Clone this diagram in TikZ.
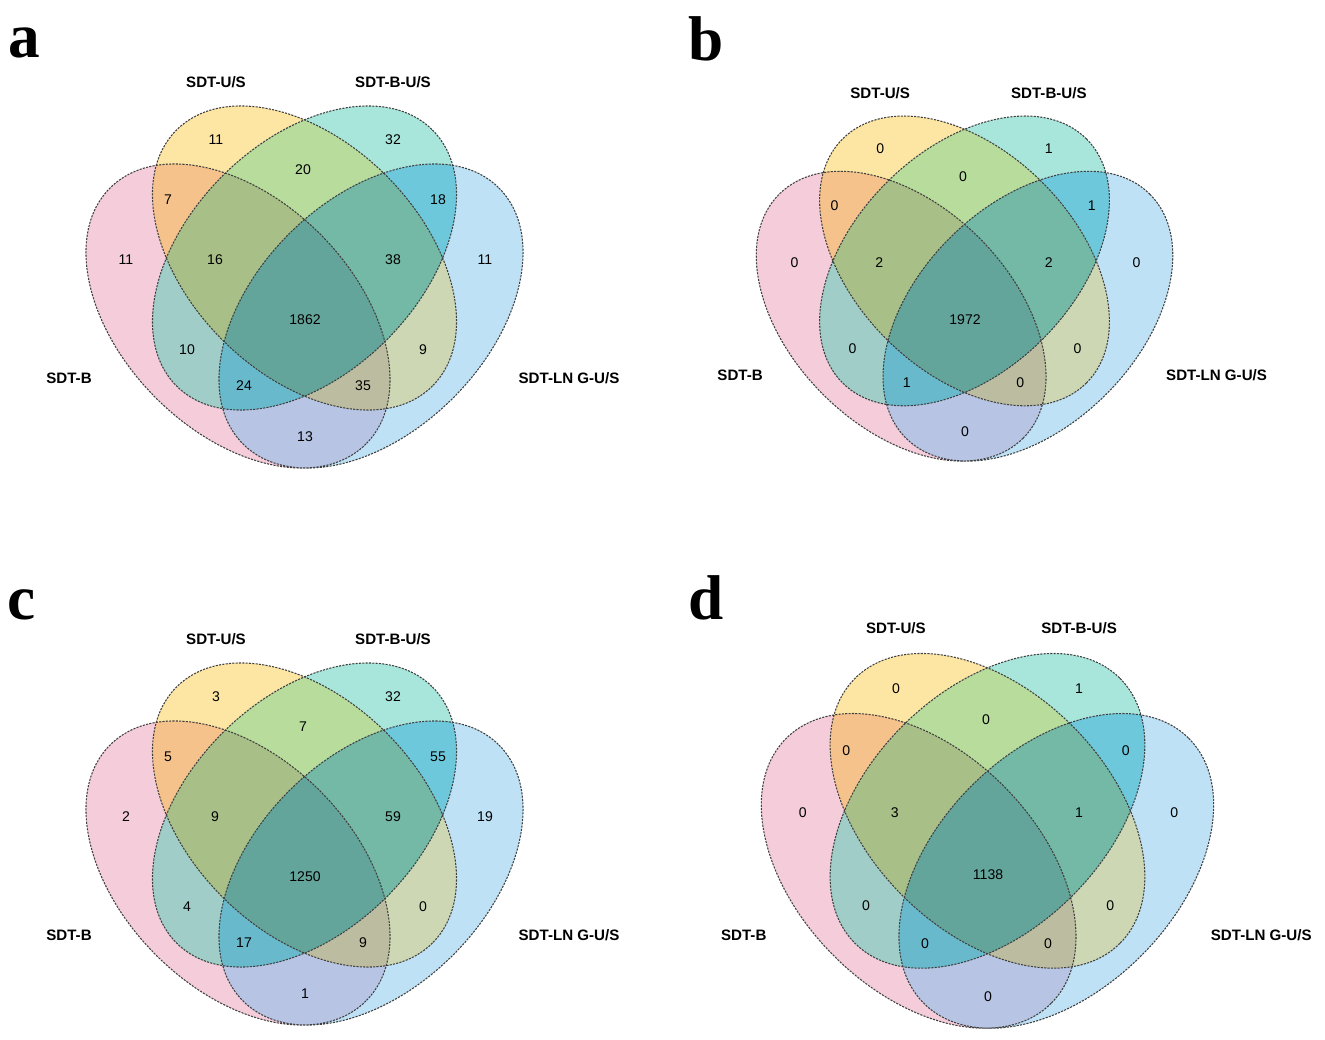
\documentclass[tikz,border=0pt]{standalone}
\usepackage{fontspec}
\setmainfont{Liberation Serif}
\setsansfont{Liberation Sans}

% region colours (one per overlap)
\definecolor{cP}{HTML}{F4CCDA}
\definecolor{cY}{HTML}{FDE5A3}
\definecolor{cT}{HTML}{A8E6DC}
\definecolor{cB}{HTML}{BEE1F5}
\definecolor{cPY}{HTML}{F6C28C}
\definecolor{cPT}{HTML}{A0CDC8}
\definecolor{cPB}{HTML}{B7C4E4}
\definecolor{cYT}{HTML}{B7DC9B}
\definecolor{cYB}{HTML}{CDD7B4}
\definecolor{cTB}{HTML}{6EC8DC}
\definecolor{cPYT}{HTML}{A8C087}
\definecolor{cPYB}{HTML}{BCBCA0}
\definecolor{cPTB}{HTML}{69B9CD}
\definecolor{cYTB}{HTML}{73B9A5}
\definecolor{cPYTB}{HTML}{64A59B}

% the four sets
\def\ellP{(238,316) circle [x radius=181, y radius=116, rotate=-45]}
\def\ellY{(304.5,258) circle [x radius=181, y radius=116, rotate=-45]}
\def\ellT{(304.5,258) circle [x radius=181, y radius=116, rotate=45]}
\def\ellB{(371,316) circle [x radius=181, y radius=116, rotate=45]}

\newcommand\venn[2]{%
    \foreach \x/\y [count=\i] in {216/140, 393/140, 303/170, 168/200, 438/200,
        126/260, 215/260, 393/260, 485/260, 305/320,
        187/350, 423/350, 244/386, 363/386, 305/437}
        \coordinate (p\i) at (\x,\y);
    % single sets
    \fill[cP] \ellP; \fill[cY] \ellY; \fill[cT] \ellT; \fill[cB] \ellB;
    % pairs
    \begin{scope} \clip \ellP; \fill[cPY] \ellY; \end{scope}
    \begin{scope} \clip \ellP; \fill[cPT] \ellT; \end{scope}
    \begin{scope} \clip \ellP; \fill[cPB] \ellB; \end{scope}
    \begin{scope} \clip \ellY; \fill[cYT] \ellT; \end{scope}
    \begin{scope} \clip \ellY; \fill[cYB] \ellB; \end{scope}
    \begin{scope} \clip \ellT; \fill[cTB] \ellB; \end{scope}
    % triples
    \begin{scope} \clip \ellP; \clip \ellY; \fill[cPYT] \ellT; \end{scope}
    \begin{scope} \clip \ellP; \clip \ellY; \fill[cPYB] \ellB; \end{scope}
    \begin{scope} \clip \ellP; \clip \ellT; \fill[cPTB] \ellB; \end{scope}
    \begin{scope} \clip \ellY; \clip \ellT; \fill[cYTB] \ellB; \end{scope}
    \begin{scope} \clip \ellP; \clip \ellY; \clip \ellT; \fill[cPYTB] \ellB; \end{scope}
    \draw[outline] \ellP \ellY \ellT \ellB;
    % set names
    \node[setname] (#1-P) at (69,378) {SDT-B};
    \node[setname] (#1-Y) at (216,82) {SDT-U/S};
    \node[setname] (#1-T) at (393,82) {SDT-B-U/S};
    \node[setname] (#1-B) at (569,378) {SDT-LN G-U/S};
    \foreach \n [count=\i] in {#2}
        \node[num] (#1-n\i) at (p\i) {\n};
}

\begin{document}
\begin{tikzpicture}[
    x=0.02cm, y=-0.02cm,
    outline/.style={draw=black!75, line width=0.6pt, dash pattern=on 1.2pt off 0.7pt},
    setname/.style={font=\sffamily\bfseries\fontsize{8.6}{10}\selectfont, inner sep=0pt},
    num/.style={font=\sffamily\fontsize{8}{10}\selectfont, inner sep=0pt},
    panel/.style={font=\bfseries\fontsize{36}{36}\selectfont, inner sep=0pt}
]
    \useasboundingbox (0,0) rectangle (1325,1040);
    \fill[white] (0,0) rectangle (1325,1040);

    \begin{scope}
        \venn{a}{11,32,20,7,18,11,16,38,11,1862,10,9,24,35,13}
    \end{scope}
    \begin{scope}[shift={(660,0)}, scale around={0.953:(305,320)}]
        \venn{b}{0,1,0,0,1,0,2,2,0,1972,0,0,1,0,0}
    \end{scope}
    \begin{scope}[shift={(0,557)}]
        \venn{c}{3,32,7,5,55,2,9,59,19,1250,4,0,17,9,1}
    \end{scope}
    \begin{scope}[shift={(683,555)}, scale around={1.035:(305,320)}]
        \venn{d}{0,1,0,0,0,0,3,1,0,1138,0,0,0,0,0}
    \end{scope}

    \node[panel] (la) at (24,43) {a};
    \node[panel] (lb) at (706,39) {b};
    \node[panel] (lc) at (22,605) {c};
    \node[panel] (ld) at (706,598) {d};
\end{tikzpicture}
\end{document}
